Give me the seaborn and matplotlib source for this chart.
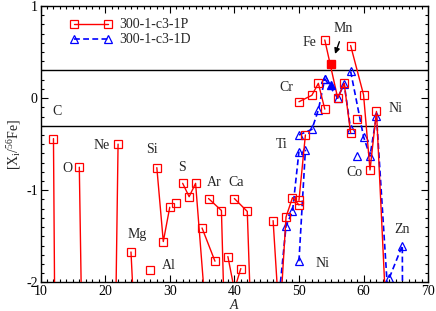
import pandas as pd
import matplotlib
matplotlib.use('Agg')
import matplotlib.pyplot as plt
import seaborn as sns
from matplotlib.lines import Line2D
from matplotlib.ticker import MultipleLocator

# 300-1-c3-1P (red squares), isotopes of one element are joined
p_elem = ['C', 'C', 'O', 'O', 'Ne', 'Ne', 'Mg', 'Mg', 'Al', 'Si', 'Si', 'Si', 'P',
          'S', 'S', 'S', 'S', 'Cl', 'Cl', 'Ar', 'Ar', 'Ar', 'K', 'K', 'K',
          'Ca', 'Ca', 'Ca', 'Ti', 'Ti', 'Ti', 'Ti', 'Ti', 'V', 'V',
          'Cr', 'Cr', 'Cr', 'Cr', 'Fe', 'Fe', 'Fe', 'Fe', 'Co',
          'Ni', 'Ni', 'Ni', 'Ni', 'Ni']
p_mass = [12, 13, 16, 17, 21, 22, 24, 25, 27, 28, 29, 30, 31,
          32, 33, 34, 36, 35, 37, 36, 38, 40, 39, 40, 41,
          40, 42, 43, 46, 47, 48, 49, 50, 50, 51,
          50, 52, 53, 54, 54, 56, 57, 58, 59,
          58, 60, 61, 62, 64]
p_val = [-0.44, -10.0, -0.75, -5.2, -5.5, -0.50, -1.67, -3.1, -1.87, -0.755, -1.557, -1.185, -1.14,
         -0.925, -1.07, -0.925, -2.72, -1.41, -1.77, -1.09, -1.22, -6.4, -1.72, -2.08, -1.85,
         -1.09, -1.23, -3.3, -1.33, -2.45, -1.29, -1.08, -1.16, -1.11, -0.40,
         -0.04, 0.03, 0.16, -0.12, 0.63, 0.0, 0.16, -0.38, -0.23,
         0.57, 0.036, -0.78, -0.145, -3.1]

# 300-1-c3-1D (blue triangles)
d_elem = ['Ti', 'Ti', 'Ti', 'Ti', 'V', 'V', 'Cr', 'Cr', 'Cr', 'Cr',
          'Fe', 'Fe', 'Fe', 'Fe', 'Co', 'Ni', 'Ni', 'Ni', 'Ni', 'Ni', 'Zn', 'Zn', 'Zn']
d_mass = [47, 48, 49, 50, 50, 51, 50, 52, 53, 54,
          54, 56, 57, 58, 59, 58, 60, 61, 62, 64, 64, 66, 67]
d_val = [-2.1, -1.39, -1.23, -0.58, -1.77, -0.56, -0.40, -0.34, -0.13, 0.21,
         0.21, 0.0, 0.155, -0.34, -0.63, 0.29, -0.42, -0.63, -0.19, -2.4, -1.95, -1.6, -20.0]

# Mn-55, drawn filled
mn_mass = [55]
mn_p = [0.37]
mn_d = [0.14]

labels = ['C', 'O', 'Ne', 'Mg', 'Al', 'Si', 'S', 'Ar', 'Ca', 'Ti', 'Cr', 'Fe', 'Mn', 'Ni', 'Co', 'Ni', 'Zn']
label_x = [12.6, 14.1, 19.5, 24.9, 29.8, 27.3, 31.9, 36.8, 40.3, 47.4, 48.1, 51.6, 56.85, 65.0, 58.6, 53.6, 66.0]
label_y = [-0.15, -0.76, -0.52, -1.48, -1.82, -0.56, -0.75, -0.92, -0.92, -0.50, 0.12, 0.60, 0.76, -0.11, -0.81, -1.79, -1.43]


def main():
    sns.set_style('ticks')
    plt.rcParams['font.family'] = ['Liberation Serif', 'DejaVu Serif']
    plt.rcParams['mathtext.fontset'] = 'custom'
    plt.rcParams['mathtext.rm'] = 'Liberation Serif'
    plt.rcParams['mathtext.it'] = 'Liberation Serif:italic'
    plt.rcParams['axes.unicode_minus'] = False

    red, blue = '#ff0000', '#0000ff'
    dfp = pd.DataFrame({'elem': p_elem, 'A': p_mass, 'val': p_val})
    dfd = pd.DataFrame({'elem': d_elem, 'A': d_mass, 'val': d_val})

    fig = plt.figure(figsize=(4.36, 3.11), dpi=100)
    ax = fig.add_axes([0.093, 0.092, 0.889, 0.889])

    ax.axhline(0.3, color='black', lw=1.0, zorder=1)
    ax.axhline(-0.3, color='black', lw=1.0, zorder=1)

    for el, g in dfp.groupby('elem', sort=False):
        sns.lineplot(data=g, x='A', y='val', ax=ax, sort=False, estimator=None, legend=False,
                     color=red, lw=1.0, marker='s', ms=5.5, mfc='none', mec=red, mew=0.9, zorder=3)
    for el, g in dfd.groupby('elem', sort=False):
        sns.lineplot(data=g, x='A', y='val', ax=ax, sort=False, estimator=None, legend=False,
                     color=blue, lw=1.2, linestyle=(0, (3.5, 2)), marker='^', ms=6, mfc='none',
                     mec=blue, mew=0.9, zorder=2)

    ax.plot(mn_mass, mn_p, 's', color=red, ms=5.5, zorder=4)
    ax.plot(mn_mass, mn_d, '^', color=blue, ms=6, zorder=4)

    for t, x, y in zip(labels, label_x, label_y):
        ax.text(x, y, t, ha='center', va='center', fontsize=10)
    ax.annotate('', xy=(55.45, 0.45), xytext=(56.4, 0.64),
                arrowprops=dict(arrowstyle='-|>', color='black', lw=1.0, mutation_scale=8))

    ax.set_xlim(10, 70)
    ax.set_ylim(-2, 1)
    ax.xaxis.set_major_locator(MultipleLocator(10))
    ax.xaxis.set_minor_locator(MultipleLocator(1))
    ax.yaxis.set_major_locator(MultipleLocator(1))
    ax.yaxis.set_minor_locator(MultipleLocator(0.1))
    ax.tick_params(which='both', direction='in', top=True, right=True, labelsize=10, width=0.8,
                   colors='black', pad=2)
    ax.tick_params(which='major', length=5)
    ax.tick_params(which='minor', length=2.2)
    for s in ax.spines.values():
        s.set_linewidth(1.0)
        s.set_color('black')

    ax.set_xlabel('A', fontsize=10, style='italic', va='center')
    ax.xaxis.set_label_coords(0.5, -0.082)
    ax.set_ylabel('[X$_\\mathrm{i}$/$^{56}$Fe]', fontsize=10, labelpad=2)

    handles = [
        Line2D([0], [0], color=red, lw=1.0, marker='s', ms=5.5, mfc='none', mec=red, mew=0.9),
        Line2D([0], [0], color=blue, lw=1.2, linestyle=(0, (3.5, 2)), marker='^', ms=6, mfc='none', mec=blue, mew=0.9),
    ]
    ax.legend(handles, ['300-1-c3-1P', '300-1-c3-1D'], loc='upper left', bbox_to_anchor=(0.055, 0.985),
              frameon=False, numpoints=2, handlelength=3.0, handletextpad=0.5, labelspacing=0.15,
              fontsize=10, borderaxespad=0.2)

    fig.savefig('out.png', dpi=100)


if __name__ == '__main__':
    main()
